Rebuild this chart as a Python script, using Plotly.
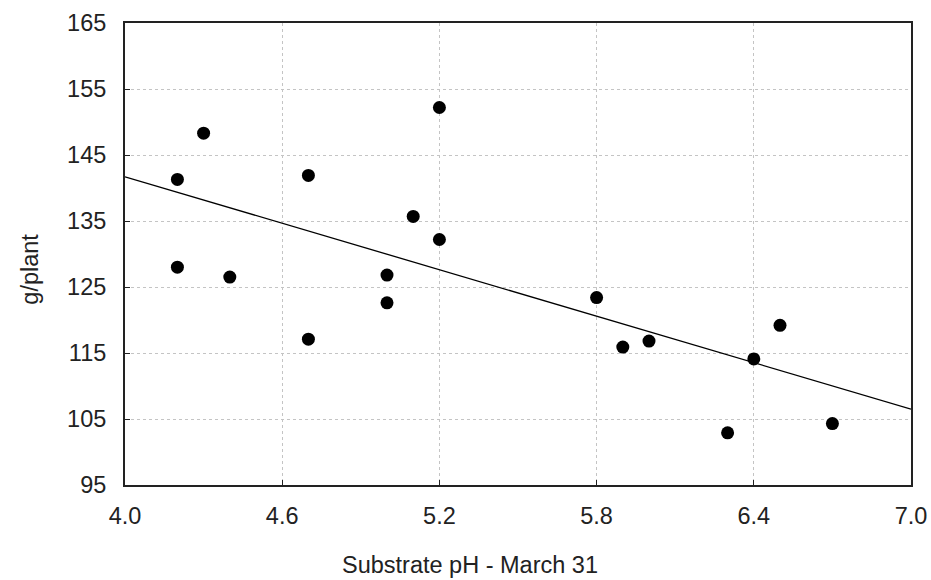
import plotly.graph_objects as go

# Data
ph = [4.2, 4.3, 4.2, 4.4, 4.7, 4.7, 5.0, 5.0, 5.1, 5.2, 5.2, 5.8, 5.9, 6.0, 6.3, 6.4, 6.5, 6.7]
g_per_plant = [141.3, 148.3, 128.0, 126.5, 141.9, 117.1, 126.8, 122.6, 135.7, 152.2,
               132.2, 123.4, 115.9, 116.8, 102.9, 114.1, 119.2, 104.3]
fit_x = [4.0, 7.0]
fit_y = [141.7, 106.5]

x_ticks = [4.0, 4.6, 5.2, 5.8, 6.4, 7.0]
y_ticks = [95, 105, 115, 125, 135, 145, 155, 165]

FONT = "Liberation Sans, Arial, sans-serif"
FS = 23.5

fig = go.Figure()
fig.add_trace(go.Scatter(x=fit_x, y=fit_y, mode="lines",
                         line=dict(color="black", width=1.3), showlegend=False,
                         hoverinfo="skip"))
fig.add_trace(go.Scatter(x=ph, y=g_per_plant, mode="markers",
                         marker=dict(color="black", size=13, line=dict(width=0)),
                         showlegend=False))

axis_common = dict(showline=True, linecolor="#222222", linewidth=2, mirror=True,
                   ticks="inside", ticklen=5, tickcolor="#222222", tickwidth=1,
                   showgrid=True, gridcolor="#c4c4c4", griddash="dot", gridwidth=1,
                   zeroline=False, automargin=False,
                   tickfont=dict(family=FONT, size=FS, color="#222222"))

fig.update_layout(
    template="none",
    width=931, height=580,
    margin=dict(l=125, r=20, t=23, b=95),
    paper_bgcolor="white", plot_bgcolor="white",
    xaxis=dict(range=[4.0, 7.0], tickvals=x_ticks, ticktext=[f"{v:.1f}" for v in x_ticks],
               ticklabelstandoff=9, **axis_common),
    yaxis=dict(range=[95, 165], tickvals=y_ticks, ticktext=[str(v) for v in y_ticks],
               ticklabelstandoff=12, **axis_common),
    annotations=[
        dict(text="Substrate pH - March 31", xref="paper", yref="paper",
             x=0.439, y=-0.173, xanchor="center", yanchor="middle", showarrow=False,
             font=dict(family=FONT, size=FS, color="#222222")),
        dict(text="g/plant", xref="paper", yref="paper", textangle=-90,
             x=-0.121, y=0.468, xanchor="center", yanchor="middle", showarrow=False,
             font=dict(family=FONT, size=FS, color="#222222")),
    ],
)

# remove the default page margin so the 931x580 figure fills the window exactly
fig.write_html("out.html",
               config={"displayModeBar": False},
               post_script="document.body.style.margin='0';document.body.style.overflow='hidden';")
